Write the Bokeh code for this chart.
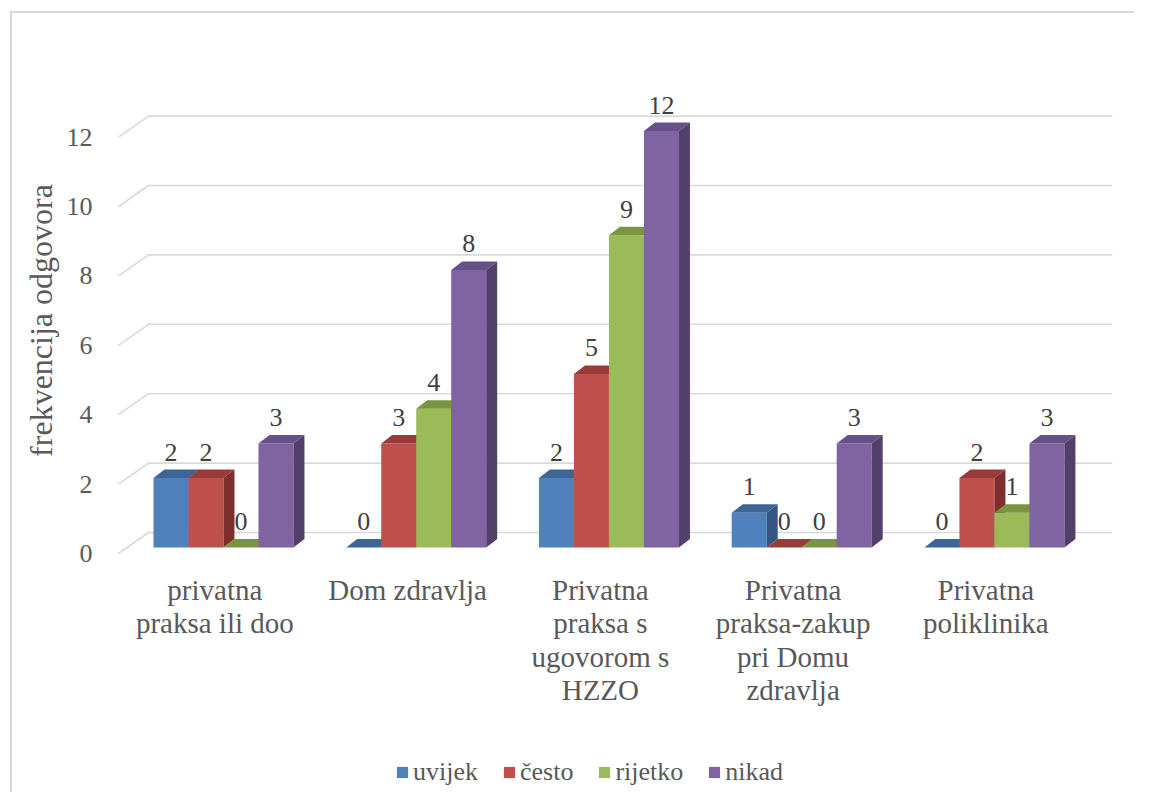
from bokeh.plotting import figure
from bokeh.models import Range1d, LinearAxis, FixedTicker
from bokeh.layouts import column
from bokeh.embed import file_html
from bokeh.resources import INLINE
from bokeh.core.properties import value

# ---------------- data ----------------
categories = [
    "privatna\npraksa ili doo",
    "Dom zdravlja",
    "Privatna\npraksa s\nugovorom s\nHZZO",
    "Privatna\npraksa-zakup\npri Domu\nzdravlja",
    "Privatna\npoliklinika",
]
series = ["uvijek", "često", "rijetko", "nikad"]
uvijek = [2, 0, 2, 1, 0]
cesto = [2, 3, 5, 0, 2]
rijetko = [0, 4, 9, 0, 1]
nikad = [3, 8, 12, 3, 3]
y_ticks = [0, 2, 4, 6, 8, 10, 12]
y_title = "frekvencija odgovora"

# ---------------- style ----------------
front_colors = ["#4F81BD", "#C0504D", "#9BBB59", "#8064A2"]
top_colors = ["#3D6596", "#9B3B39", "#7A9440", "#65508A"]
side_colors = ["#345680", "#7D2F2D", "#66803A", "#533F6C"]
FONT = "serif"
TXT = "#595959"
SMALL = "26px"
BAR_W = 0.1816           # bar width in category units
DEPTH = (0.057, 0.245)   # oblique depth of a bar (x units, y units)
WALL_BACK = (0.111, 0.432)
WALL_FRONT = (-0.0446, -0.173)
LABEL_GAP = 0.75         # data label centre offset above bar top (value units)

x0, x1 = -0.638, 4.654
y0, y1 = -0.375, 13.458

p = figure(width=1134, height=720,
           x_range=Range1d(x0, x1), y_range=Range1d(y0, y1),
           output_backend="svg", toolbar_location=None,
           x_axis_location=None, y_axis_location=None,
           min_border_left=100, min_border_right=14,
           min_border_top=80, min_border_bottom=160)
p.extra_x_ranges = {"labx": Range1d(x0 - WALL_FRONT[0], x1 - WALL_FRONT[0])}
p.extra_y_ranges = {"laby": Range1d(y0 - WALL_FRONT[1], y1 - WALL_FRONT[1])}
p.outline_line_color = None
p.xgrid.visible = False
p.ygrid.visible = False
p.background_fill_color = "white"
p.border_fill_color = None

# ---------------- 3D gridlines (floor edge + back wall) ----------------
n = len(categories)
gx, gy = [], []
for t in y_ticks:
    gx.append([-0.5 + WALL_FRONT[0], -0.5 + WALL_BACK[0], n - 0.5 + WALL_BACK[0]])
    gy.append([t + WALL_FRONT[1], t + WALL_BACK[1], t + WALL_BACK[1]])
p.multi_line(gx, gy, line_color="#D9D9D9", line_width=1.6)

# ---------------- 3D bars ----------------
values = [uvijek, cesto, rijetko, nikad]
dx, dy = DEPTH
for k, (name, vals) in enumerate(zip(series, values)):
    lefts = [i + (k - 2) * BAR_W for i in range(n)]
    rights = [l + BAR_W for l in lefts]
    p.quad(left=lefts, right=rights, bottom=[0] * n, top=vals,
           fill_color=front_colors[k], line_color=None)
    top_xs = [[l, r, r + dx, l + dx] for l, r in zip(lefts, rights)]
    top_ys = [[v, v, v + dy, v + dy] for v in vals]
    p.patches(top_xs, top_ys, fill_color=top_colors[k], line_color=None)
    side_xs = [[r, r + dx, r + dx, r] for r in rights]
    side_ys = [[0, dy, v + dy, v] for v in vals]
    p.patches(side_xs, side_ys, fill_color=side_colors[k], line_color=None)
    centers = [(l + r) / 2 for l, r in zip(lefts, rights)]
    p.text(x=centers, y=[v + LABEL_GAP for v in vals], text=[str(v) for v in vals],
           text_font=value(FONT), text_font_size=SMALL, text_color="#404040",
           text_align="center", text_baseline="middle")

# ---------------- axes ----------------
yaxis = LinearAxis(y_range_name="laby", ticker=FixedTicker(ticks=y_ticks),
                   axis_label=y_title)
yaxis.axis_line_color = None
yaxis.major_tick_line_color = None
yaxis.minor_tick_line_color = None
yaxis.major_tick_out = 0
yaxis.major_tick_in = 0
yaxis.major_label_standoff = 8
yaxis.major_label_text_font = FONT
yaxis.major_label_text_font_size = SMALL
yaxis.major_label_text_color = TXT
yaxis.axis_label_text_font = FONT
yaxis.axis_label_text_font_size = "32px"
yaxis.axis_label_text_font_style = "normal"
yaxis.axis_label_text_color = TXT
yaxis.axis_label_standoff = 5
p.add_layout(yaxis, "left")

xaxis = LinearAxis(x_range_name="labx", ticker=FixedTicker(ticks=list(range(n))),
                   major_label_overrides={i: c for i, c in enumerate(categories)})
xaxis.axis_line_color = None
xaxis.major_tick_line_color = None
xaxis.minor_tick_line_color = None
xaxis.major_tick_out = 0
xaxis.major_tick_in = 0
xaxis.major_label_standoff = 13
xaxis.major_label_text_font = FONT
xaxis.major_label_text_font_size = "29px"
xaxis.major_label_text_color = TXT
xaxis.major_label_text_line_height = 1.05
p.add_layout(xaxis, "below")

# ---------------- legend strip ----------------
NaN = float("nan")
lg = figure(width=1134, height=72, x_range=Range1d(0, 1), y_range=Range1d(0, 1),
            output_backend="svg", toolbar_location=None,
            x_axis_location=None, y_axis_location=None,
            min_border_left=100, min_border_right=14, min_border_top=0, min_border_bottom=0)
lg.outline_line_color = None
lg.xgrid.visible = False
lg.ygrid.visible = False
lg.background_fill_color = None
lg.border_fill_color = None
for k, name in enumerate(series):
    # legend swatch only (no visible mark)
    lg.quad(left=[NaN], right=[NaN], bottom=[NaN], top=[NaN], fill_color=front_colors[k],
            line_color=None, legend_label=name)
leg = lg.legend[0]
leg.orientation = "horizontal"
leg.location = (295, 5)
leg.padding = 0
leg.margin = 0
leg.spacing = 24
leg.glyph_width = 14
leg.glyph_height = 14
leg.label_standoff = 4
leg.label_text_font = FONT
leg.label_text_font_size = SMALL
leg.label_text_color = TXT
leg.border_line_color = None
leg.background_fill_alpha = 0

page = column(p, lg, spacing=0)
page.styles = {
    "background": "linear-gradient(#D9D9D9, #D9D9D9) 10px 11px / 2px 100% no-repeat, "
                  "linear-gradient(#D9D9D9, #D9D9D9) 10px 11px / 100% 2px no-repeat, white",
}

open("out.html", "w").write(file_html(page, INLINE))
